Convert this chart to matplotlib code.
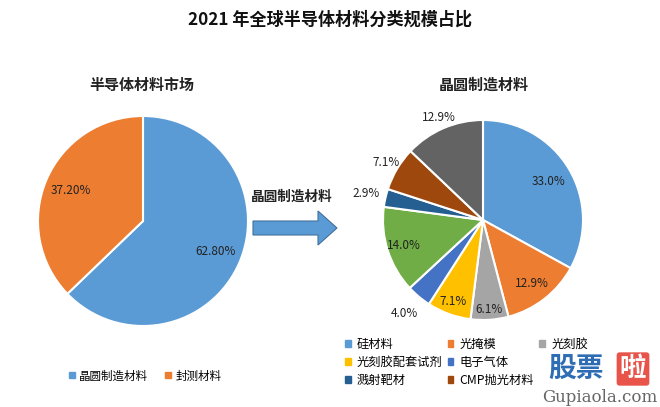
import numpy as np
import matplotlib.pyplot as plt
import matplotlib.patches as mpatches

plt.rcParams['font.family'] = ['Noto Sans CJK SC', 'DejaVu Sans']

# data
title = '2021 年全球半导体材料分类规模占比'
left_title = '半导体材料市场'
right_title = '晶圆制造材料'
arrow_label = '晶圆制造材料'

market_labels = ['晶圆制造材料', '封测材料']
market_values = [62.80, 37.20]
market_colors = ['#5B9BD5', '#ED7D31']

wafer_labels = ['硅材料', '光掩模', '光刻胶', '光刻胶配套试剂', '电子气体',
                '湿电子化学品', '溅射靶材', 'CMP抛光材料', '其他']
wafer_values = [33.0, 12.9, 6.1, 7.1, 4.0, 14.0, 2.9, 7.1, 12.9]
wafer_colors = ['#5B9BD5', '#ED7D31', '#A5A5A5', '#FFC000', '#4472C4',
                '#70AD47', '#255E91', '#9E480E', '#636363']
# legend entries hidden under the watermark in the original
wafer_legend_hidden = ['湿电子化学品', '其他']

W, H = 660, 407
fig = plt.figure(figsize=(6.6, 4.07), dpi=100)
ax = fig.add_axes([0, 0, 1, 1])

fig.text(0.5, 1 - 20 / H, title, ha='center', va='center',
         fontsize=12.3, fontweight='bold', color='#111111')

# left pie
lc = (143, H - 221)
wl, tl = ax.pie(market_values, colors=market_colors, startangle=90,
                counterclock=False, center=lc, radius=105,
                wedgeprops=dict(edgecolor='white', linewidth=1.5))
for w, v in zip(wl, market_values):
    a = np.deg2rad((w.theta1 + w.theta2) / 2)
    ax.text(lc[0] + 0.75 * 105 * np.cos(a), lc[1] + 0.75 * 105 * np.sin(a),
            '%.2f%%' % v, ha='center', va='center', fontsize=8.5, color='#222222')
ax.text(142, H - 85, left_title, ha='center', va='center', fontsize=10.8,
        fontweight='bold', color='#222222')

# right pie
rc = (483, H - 220)
label_r = [0.76, 0.8, 0.9, 0.87, 1.22, 0.83, 1.2, 1.13, 1.11]
wr, tr = ax.pie(wafer_values, colors=wafer_colors, startangle=90,
                counterclock=False, center=rc, radius=100,
                wedgeprops=dict(edgecolor='white', linewidth=1.5))
for w, v, r in zip(wr, wafer_values, label_r):
    a = np.deg2rad((w.theta1 + w.theta2) / 2)
    ax.text(rc[0] + r * 100 * np.cos(a), rc[1] + r * 100 * np.sin(a),
            '%.1f%%' % v, ha='center', va='center', fontsize=8.5, color='#222222')
ax.text(484, H - 85, right_title, ha='center', va='center', fontsize=10.8,
        fontweight='bold', color='#222222')

# arrow
arrow = mpatches.Polygon([(253, H - 221), (318, H - 221), (318, H - 211),
                          (337, H - 228), (318, H - 245), (318, H - 235),
                          (253, H - 235)], closed=True,
                         facecolor='#5B9BD5', edgecolor='#41719C', linewidth=0.8)
ax.add_patch(arrow)
ax.text(292, H - 197, arrow_label, ha='center', va='center', fontsize=9.8,
        fontweight='bold', color='#222222')

ax.set_xlim(0, W)
ax.set_ylim(0, H)
ax.axis('off')

# legends
lh = [mpatches.Patch(color=c) for c in market_colors]
leg1 = ax.legend(lh, market_labels, ncol=2, loc='center left',
                 bbox_to_anchor=(59 / W, 1 - 376 / H), frameon=False,
                 handlelength=0.45, handleheight=0.45,
                 handletextpad=0.4, columnspacing=1.5,
                 prop={'size': 8.3})
ax.add_artist(leg1)

blank = mpatches.Patch(alpha=0)
handles = {l: mpatches.Patch(color=c) for l, c in zip(wafer_labels, wafer_colors)}
grid = [wafer_labels[0:3], wafer_labels[3:6], wafer_labels[6:9]]
col_h, col_l = [], []
for col in range(3):
    for row in range(3):
        l = grid[row][col]
        if l in wafer_legend_hidden:
            col_h.append(blank)
            col_l.append('')
        else:
            col_h.append(handles[l])
            col_l.append(l)
leg2 = ax.legend(col_h, col_l, ncol=3, loc='upper left',
                 bbox_to_anchor=(334 / W, 1 - 327 / H), frameon=False,
                 handlelength=0.45, handleheight=0.45, handletextpad=0.5,
                 columnspacing=0.45, labelspacing=0.4, prop={'size': 8.8})

# watermark
ax.text(576, H - 369, '股票', ha='center', va='center', fontsize=20,
        fontweight='bold', color='#2E6DB4')
ax.text(633, H - 369, '啦', ha='center', va='center', fontsize=19,
        fontweight='bold', color='white',
        bbox=dict(boxstyle='round,pad=0.12', facecolor='#E8534A', edgecolor='none'))
ax.text(600, H - 398, 'Gupiaola.com', ha='center', va='center', fontsize=12,
        family='DejaVu Serif', color='#666666')

fig.savefig('out.png', dpi=100)
